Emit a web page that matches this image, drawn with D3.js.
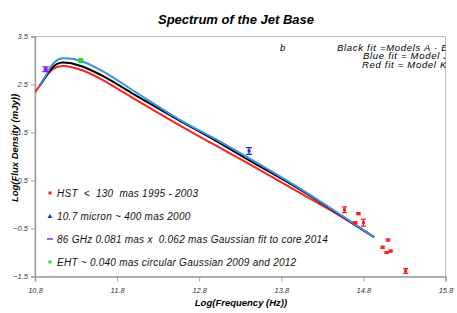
<!DOCTYPE html>
<html>
<head>
<meta charset="utf-8">
<script src="https://cdn.jsdelivr.net/npm/d3@7"></script>
<style>
  body { margin: 0; background: #fff; }
  text { font-family: "Liberation Sans", Arial, sans-serif; font-style: italic; white-space: pre; }
</style>
</head>
<body>
<div id="chart"></div>
<script>
// fitted model curves [log nu, log flux]
const blackFit = [[10.86, 2.48], [10.93, 2.66], [11.0, 2.83], [11.07, 2.93], [11.14, 2.96], [11.22, 2.95],
  [11.35, 2.89], [11.6, 2.7], [12.0, 2.3], [12.55, 1.76], [13.0, 1.33], [13.4, 0.93], [14.0, 0.34], [14.5, -0.2], [14.93, -0.68]];
const blueFit = [[10.86, 2.48], [10.93, 2.68], [11.0, 2.89], [11.07, 3.01], [11.14, 3.046], [11.22, 3.04],
  [11.36, 2.99], [11.6, 2.8], [12.0, 2.37], [12.57, 1.76], [13.0, 1.36], [13.41, 0.96], [14.0, 0.36], [14.5, -0.19], [14.93, -0.68]];
const redFit = [[10.8, 2.34], [10.88, 2.53], [10.95, 2.71], [11.02, 2.82], [11.08, 2.87], [11.15, 2.885], [11.25, 2.86],
  [11.4, 2.78], [11.7, 2.52], [12.0, 2.21], [12.45, 1.76], [13.0, 1.23], [13.38, 0.87], [14.0, 0.27], [14.5, -0.22], [14.93, -0.68]];

// observations [log nu, log flux, error]
const hstPoints = [[14.57, -0.11, 0.06], [14.74, -0.19, 0.02], [14.70, -0.38, 0.02], [14.80, -0.38, 0.07],
  [15.10, -0.74, 0.02], [15.035, -0.89, 0.02], [15.084, -1.0, 0.02], [15.133, -0.97, 0.02], [15.315, -1.385, 0.05]];
const micronPoints = [[13.407, 1.115, 0.07]];
const ghzPoints = [[10.93, 2.82, 0.05]];
const ehtPoints = [[11.357, 3.0, 0.02]];

const xTicks = [10.8, 11.8, 12.8, 13.8, 14.8, 15.8];
const yTicks = [3.5, 2.5, 1.5, 0.5, -0.5, -1.5];

const legendItems = [
  { label: "HST  <  130  mas 1995 - 2003", color: "#ff1a1a", shape: "square" },
  { label: "10.7 micron ~ 400 mas 2000", color: "#1f2fd6", shape: "triangle" },
  { label: "86 GHz 0.081 mas x  0.062 mas Gaussian fit to core 2014", color: "#8a1fff", shape: "dash" },
  { label: "EHT ~ 0.040 mas circular Gaussian 2009 and 2012", color: "#22dd22", shape: "square" }
];
const fitNotes = ["Black fit =Models A - E", "Blue fit = Model J", "Red fit = Model K"];

const W = 457, H = 313;
const svg = d3.select("#chart").append("svg").attr("width", W).attr("height", H);

const x = d3.scaleLinear().domain([10.8, 15.8]).range([35, 445.5]);
const y = d3.scaleLinear().domain([-1.5, 3.5]).range([276.5, 36.5]);

svg.append("defs").append("clipPath").attr("id", "plot")
  .append("rect").attr("x", 35).attr("y", 36).attr("width", 410.5).attr("height", 241);

const axisColor = "#98a2ab";

// frame
svg.append("rect").attr("x", 35).attr("y", 36.5).attr("width", 410.5).attr("height", 240)
  .attr("fill", "none").attr("stroke", "#b4bcc3").attr("stroke-width", 1);

// axes
const xAxis = svg.append("g").attr("transform", `translate(0,${y(-1.5)})`)
  .call(d3.axisBottom(x).tickValues(xTicks).tickFormat(d3.format(".1f")).tickSize(5).tickPadding(6));
const yAxis = svg.append("g").attr("transform", `translate(${x(10.8)},0)`)
  .call(d3.axisLeft(y).tickValues(yTicks).tickFormat(d3.format(".1f")).tickSize(4).tickPadding(3));
[xAxis, yAxis].forEach(g => {
  g.select(".domain").attr("stroke", axisColor).attr("stroke-width", 1.5);
  g.selectAll(".tick line").attr("stroke", axisColor);
  g.selectAll(".tick text").attr("font-size", 7.5).attr("font-style", "italic")
    .attr("font-family", "Liberation Sans, Arial, sans-serif").attr("fill", "#333");
});

// model curves
const line = d3.line().x(d => x(d[0])).y(d => y(d[1])).curve(d3.curveMonotoneX);
const plot = svg.append("g").attr("clip-path", "url(#plot)");
[[redFit, "#ff2020"], [blackFit, "#000"], [blueFit, "#3b8fe6"]].forEach(([data, c]) => {
  plot.append("path").datum(data).attr("d", line)
    .attr("fill", "none").attr("stroke", c).attr("stroke-width", 2);
});

// observed points with error bars
function drawPoints(data, color, cap, markerW) {
  const g = plot.append("g").attr("stroke", color).attr("fill", color);
  data.forEach(d => {
    const cx = x(d[0]), y0 = y(d[1] - d[2]), y1 = y(d[1] + d[2]);
    g.append("line").attr("x1", cx).attr("x2", cx).attr("y1", y0).attr("y2", y1).attr("stroke-width", 1.2);
    g.append("line").attr("x1", cx - cap).attr("x2", cx + cap).attr("y1", y0).attr("y2", y0).attr("stroke-width", 1.2);
    g.append("line").attr("x1", cx - cap).attr("x2", cx + cap).attr("y1", y1).attr("y2", y1).attr("stroke-width", 1.2);
    g.append("rect").attr("x", cx - markerW / 2).attr("y", y(d[1]) - markerW / 2)
      .attr("width", markerW).attr("height", markerW).attr("stroke", "none");
  });
}
drawPoints(hstPoints, "#ff1a1a", 2.5, 3);
drawPoints(micronPoints, "#1f2fd6", 3, 3);
drawPoints(ghzPoints, "#8a1fff", 3.5, 4);
drawPoints(ehtPoints, "#22dd22", 2, 5);

// legend
const legend = svg.append("g");
legendItems.forEach((item, i) => {
  const ly = 193 + i * 23;
  if (item.shape === "square") {
    legend.append("rect").attr("x", 48.5).attr("y", ly - 1.5).attr("width", 3).attr("height", 3).attr("fill", item.color);
  } else if (item.shape === "triangle") {
    legend.append("path").attr("d", `M50,${ly - 2}L52.5,${ly + 2}L47.5,${ly + 2}Z`).attr("fill", item.color);
  } else {
    legend.append("line").attr("x1", 47).attr("x2", 53).attr("y1", ly).attr("y2", ly)
      .attr("stroke", item.color).attr("stroke-width", 1.5);
  }
  legend.append("text").attr("x", 57).attr("y", ly + 3.6).attr("font-size", 10)
    .attr("letter-spacing", 0.25).attr("fill", "#111").text(item.label);
});

// fit notes (clipped at the right edge like the original)
const notes = svg.append("g").attr("clip-path", "url(#plot)");
notes.append("text").attr("x", 280).attr("y", 50.5).attr("font-size", 9.5).text("b");
const noteX = [337, 363, 362];
fitNotes.forEach((t, i) => {
  notes.append("text").attr("x", noteX[i]).attr("y", 50.5 + i * 8.8).attr("font-size", 9.5)
    .attr("letter-spacing", 0.7).text(t);
});

// titles
svg.append("text").attr("x", 236).attr("y", 24).attr("text-anchor", "middle")
  .attr("font-size", 13).attr("font-weight", "bold").text("Spectrum of the Jet Base");
svg.append("text").attr("x", 241).attr("y", 305.5).attr("text-anchor", "middle")
  .attr("font-size", 9.5).attr("font-weight", "bold").text("Log(Frequency (Hz))");
svg.append("text").attr("transform", "translate(18,148) rotate(-90)").attr("text-anchor", "middle")
  .attr("font-size", 9.5).attr("font-weight", "bold").text("Log(Flux Density (mJy))");
</script>
</body>
</html>
